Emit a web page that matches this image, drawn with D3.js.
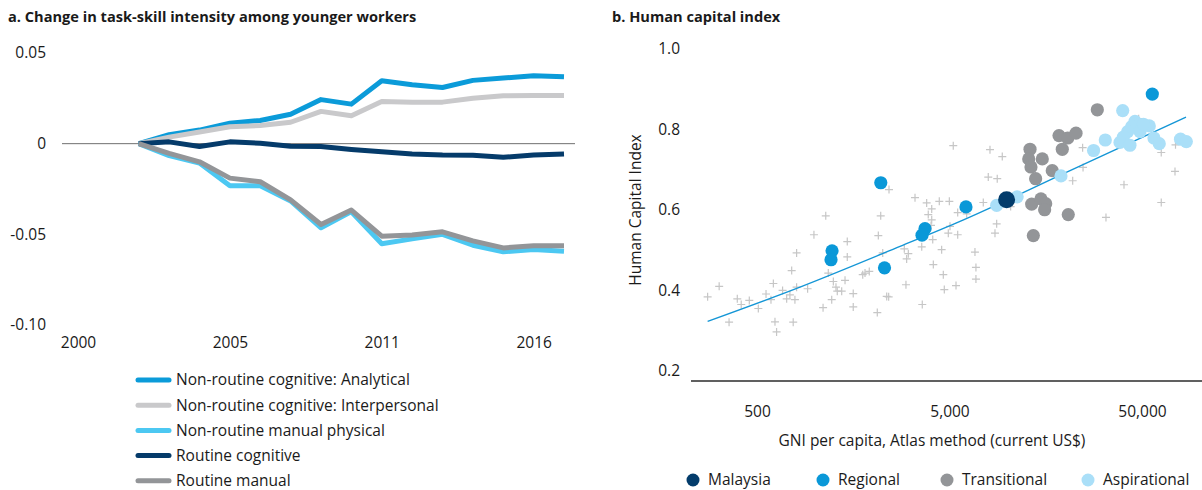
<!DOCTYPE html>
<html>
<head>
<meta charset="utf-8">
<script src="https://cdn.jsdelivr.net/npm/d3@7"></script>
<style>
  body { margin: 0; background: #fff; }
  svg { font-family: "Open Sans", Lato, sans-serif; }
  .tick text { font-size: 15.5px; fill: #1a1a1a; font-family: "Open Sans", Lato, sans-serif; }
  .title { font-size: 14.6px; font-weight: bold; fill: #1a1a1a; }
  .lab { font-size: 15.5px; fill: #1a1a1a; }
</style>
</head>
<body>
<div id="chart"></div>
<script>
// ---- panel a data ----
var years = ["2000","2001","2002","2003","2004","2005","2006","2007","2008","2009",
             "2011","2012","2013","2014","2015","2016","2017"];
var yearTicks = ["2000","2005","2011","2016"];
var seriesYears = years.slice(2);

var seriesNames = ["Non-routine cognitive: Analytical", "Non-routine cognitive: Interpersonal",
  "Non-routine manual physical", "Routine cognitive", "Routine manual"];
var seriesColors = ["#0b9bd9", "#c9c9cb", "#4cc8f2", "#053b6a", "#939598"];

var analytical    = [0, 0.005, 0.0075, 0.0113, 0.0128, 0.0162, 0.0243, 0.0218, 0.0347, 0.0325, 0.031, 0.0349, 0.0362, 0.0375, 0.0369];
var interpersonal = [0, 0.0036, 0.0064, 0.0093, 0.0100, 0.0118, 0.0178, 0.0154, 0.0232, 0.0229, 0.0229, 0.025, 0.0264, 0.0266, 0.0266];
var manualPhys    = [0, -0.0066, -0.0107, -0.0232, -0.0232, -0.0316, -0.0464, -0.0375, -0.0552, -0.0525, -0.05, -0.056, -0.0596, -0.0584, -0.0593];
var routineCog    = [0, 0.001, -0.0016, 0.001, 0.0002, -0.0014, -0.0016, -0.0032, -0.0045, -0.0057, -0.0063, -0.0064, -0.0075, -0.0063, -0.0057];
var routineMan    = [0, -0.0054, -0.010, -0.019, -0.021, -0.031, -0.0446, -0.0366, -0.051, -0.0504, -0.0486, -0.0536, -0.0575, -0.0563, -0.0563];
var seriesValues = [analytical, interpersonal, manualPhys, routineCog, routineMan];
var yTicksA = [0.05, 0, -0.05, -0.10];

// ---- panel b data: [GNI per capita, HCI] ----
var others = [[277,0.384],[318,0.410],[358,0.321],[395,0.379],[414,0.365],[456,0.375],[508,0.355],
  [557,0.391],[591,0.377],[608,0.417],[620,0.322],[632,0.297],[679,0.400],[713,0.379],[741,0.389],
  [757,0.449],[771,0.321],[787,0.377],[803,0.493],[803,0.408],[916,0.404],[988,0.538],[1102,0.357],
  [1138,0.585],[1173,0.443],[1222,0.377],[1246,0.422],[1286,0.408],[1306,0.398],[1377,0.398],
  [1433,0.425],[1472,0.521],[1472,0.483],[1581,0.392],[1581,0.359],[1771,0.439],[1820,0.443],
  [1915,0.447],[2108,0.345],[2134,0.536],[2196,0.585],[2250,0.493],[2359,0.385],[2415,0.384],
  [2425,0.650],[2970,0.414],[2995,0.478],[3055,0.491],[2912,0.503],[3610,0.365],[3587,0.508],
  [3805,0.617],[3878,0.588],[4042,0.602],[4042,0.575],[4008,0.561],[4091,0.526],[4120,0.464],
  [4425,0.621],[4552,0.501],[4643,0.439],[4699,0.402],[5030,0.559],[4929,0.542],[5405,0.412],
  [5515,0.593],[5515,0.538],[3310,0.630],[4990,0.621],[6140,0.590],[5230,0.759],[8115,0.749],
  [9400,0.732],[7950,0.681],[8850,0.677],[7490,0.618],[10390,0.608],[8790,0.565],[8615,0.542],
  [6780,0.495],[6860,0.457],[6860,0.428],[24580,0.754],[24700,0.705],[21820,0.672],[40310,0.662],
  [32500,0.581],[62950,0.618],[74200,0.695],[62950,0.742],[74650,0.761],[48060,0.826]];
var regional = [[2198,0.667],[1227,0.498],[1212,0.476],[2298,0.456],[3730,0.553],[3599,0.537],
  [6090,0.607],[56560,0.887]];
var transitional = [[29300,0.848],[18530,0.784],[20560,0.778],[22710,0.790],[19270,0.750],
  [13100,0.750],[12900,0.726],[15170,0.726],[13250,0.706],[17090,0.697],[14010,0.677],
  [13360,0.614],[14930,0.627],[15800,0.615],[15600,0.600],[20700,0.588],[13630,0.536]];
var aspirational = [[39700,0.846],[45990,0.819],[44200,0.806],[54550,0.808],[48810,0.794],
  [50900,0.812],[42140,0.794],[40000,0.780],[38430,0.767],[43290,0.760],[57700,0.778],
  [61450,0.764],[79250,0.775],[84950,0.769],[32230,0.773],[28020,0.747],[18970,0.684],
  [11230,0.632],[8790,0.611]];
var malaysia = [[9900,0.625]];
var trend = [[277,0.323],[836,0.408],[2767,0.509],[5670,0.571],[21140,0.697],[84630,0.830]];
var groupNames = ["Malaysia", "Regional", "Transitional", "Aspirational"];
var groupColors = ["#033c6b", "#0a98d8", "#939598", "#aadff8"];
var xTicksB = [500, 5000, 50000];
var yTicksB = [0.2, 0.4, 0.6, 0.8, 1.0];

var svg = d3.select("#chart").append("svg")
  .attr("width", 1202)
  .attr("height", 490);

// ================= panel a =================
var xA = d3.scalePoint().domain(years).range([78, 564]);
var yA = d3.scaleLinear().domain([-0.10, 0.05]).range([325, 53]);

svg.append("text").attr("class", "title").attr("x", 8).attr("y", 22)
  .text("a. Change in task-skill intensity among younger workers");

svg.append("g")
  .attr("transform", "translate(46,0)")
  .call(d3.axisLeft(yA).tickValues(yTicksA).tickSize(0).tickPadding(0)
    .tickFormat(function(d) { return d === 0 ? "0" : d.toFixed(2); }))
  .call(function(g) { g.select(".domain").remove(); });

svg.append("g")
  .attr("transform", "translate(0,337)")
  .call(d3.axisBottom(xA).tickValues(yearTicks).tickSize(0).tickPadding(0))
  .call(function(g) { g.select(".domain").remove(); })
  .selectAll("text").attr("dy", "0.71em");

svg.append("line")
  .attr("x1", 62).attr("x2", 575)
  .attr("y1", yA(0)).attr("y2", yA(0))
  .attr("stroke", "#707070").attr("stroke-width", 1);

var lineA = d3.line()
  .x(function(d, i) { return xA(seriesYears[i]); })
  .y(function(d) { return yA(d); });

seriesValues.forEach(function(vals, i) {
  svg.append("path")
    .datum(vals)
    .attr("d", lineA)
    .attr("fill", "none")
    .attr("stroke", seriesColors[i])
    .attr("stroke-width", 5)
    .attr("stroke-linejoin", "round");
});

var legA = svg.append("g");
seriesNames.forEach(function(name, i) {
  var yy = 380 + i * 25.2;
  legA.append("line")
    .attr("x1", 138).attr("x2", 169).attr("y1", yy).attr("y2", yy)
    .attr("stroke", seriesColors[i]).attr("stroke-width", 5).attr("stroke-linecap", "round");
  legA.append("text").attr("class", "lab")
    .attr("x", 176).attr("y", yy).attr("dy", "0.35em").text(name);
});

// ================= panel b =================
var xB = d3.scaleLog().domain([500, 50000]).range([757, 1142]);
var yB = d3.scaleLinear().domain([0.2, 1.0]).range([371, 48.5]);

svg.append("text").attr("class", "title").attr("x", 612).attr("y", 22)
  .text("b. Human capital index");

svg.append("g")
  .attr("transform", "translate(680,0)")
  .call(d3.axisLeft(yB).tickValues(yTicksB).tickSize(0).tickPadding(0).tickFormat(d3.format(".1f")))
  .call(function(g) { g.select(".domain").remove(); });

svg.append("line")
  .attr("x1", 691).attr("x2", 1202).attr("y1", 381).attr("y2", 381)
  .attr("stroke", "#2b2b2b").attr("stroke-width", 1.5);

svg.append("g")
  .attr("transform", "translate(0,406)")
  .call(d3.axisBottom(xB).tickValues(xTicksB).tickSize(0).tickPadding(0).tickFormat(d3.format(",")))
  .call(function(g) { g.select(".domain").remove(); })
  .selectAll("text").attr("dy", "0.71em");

svg.append("text").attr("class", "lab")
  .attr("transform", "translate(641,210) rotate(-90)")
  .attr("text-anchor", "middle")
  .text("Human Capital Index");

svg.append("text").attr("class", "lab")
  .attr("x", 932).attr("y", 446).attr("text-anchor", "middle")
  .text("GNI per capita, Atlas method (current US$)");

svg.append("g").selectAll("path")
  .data(others).enter()
  .append("path")
  .attr("transform", function(d) { return "translate(" + xB(d[0]) + "," + yB(d[1]) + ")"; })
  .attr("d", "M-4,0H4M0,-4V4")
  .attr("stroke", "#c6c6c6")
  .attr("stroke-width", 1.2)
  .attr("fill", "none");

svg.append("path")
  .datum(trend)
  .attr("d", d3.line().curve(d3.curveMonotoneX)
    .x(function(d) { return xB(d[0]); })
    .y(function(d) { return yB(d[1]); }))
  .attr("fill", "none")
  .attr("stroke", "#1496d6")
  .attr("stroke-width", 1.4);

[[transitional, 2, 6.6], [aspirational, 3, 6.6], [regional, 1, 6.6], [malaysia, 0, 8.5]]
  .forEach(function(g) {
    svg.append("g").selectAll("circle")
      .data(g[0]).enter()
      .append("circle")
      .attr("cx", function(d) { return xB(d[0]); })
      .attr("cy", function(d) { return yB(d[1]); })
      .attr("r", g[2])
      .attr("fill", groupColors[g[1]]);
  });

var legX = [693, 823, 947, 1088];
groupNames.forEach(function(name, i) {
  svg.append("circle").attr("cx", legX[i]).attr("cy", 480).attr("r", 6.5).attr("fill", groupColors[i]);
  svg.append("text").attr("class", "lab")
    .attr("x", legX[i] + 15).attr("y", 480).attr("dy", "0.35em").text(name);
});
</script>
</body>
</html>
